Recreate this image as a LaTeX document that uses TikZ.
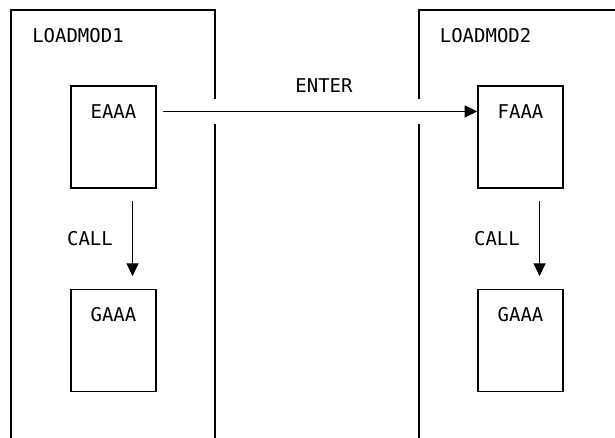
\documentclass[tikz,border=0pt]{standalone}
\usepackage{fontspec}
\setmonofont{DejaVu Sans Mono}
\usepackage{tikz}
\usetikzlibrary{arrows.meta}
\tikzstyle{line} = [draw, line width=0.8pt, -{Triangle[length=0.32cm,width=0.3cm]}]
\tikzstyle{frame} = [draw, line width=0.8pt]
\tikzstyle{box} = [draw, line width=0.8pt, minimum width=2.125cm, minimum height=2.55cm, inner sep=0pt]
\tikzstyle{txt} = [inner sep=0pt, font=\ttfamily\fontsize{13.5pt}{16pt}\selectfont]

\begin{document}
\begin{tikzpicture}
\useasboundingbox (0,0) rectangle (15.375,10.95);
% load modules
\draw[frame] (0.275,0) -- (0.275,10.7) -- (5.375,10.7) -- (5.375,8.475);
\draw[frame] (5.375,7.85) -- (5.375,0);
\draw[frame] (10.475,0) -- (10.475,7.85);
\draw[frame] (10.475,8.475) -- (10.475,10.7) -- (15.375,10.7);
\node[txt] (mod1) at (1.95,10.06) {LOADMOD1};
\node[txt] (mod2) at (12.14,10.06) {LOADMOD2};
%
\node[box] (eaaa) at (2.8375,7.525) {};
\node[box] (faaa) at (13.0125,7.525) {};
\node[box] (gaaa1) at (2.8375,2.4375) {};
\node[box] (gaaa2) at (13.0125,2.4375) {};
\node[txt] (eaaalbl) at ([yshift=-0.65cm]eaaa.north) {EAAA};
\node[txt] (faaalbl) at ([yshift=-0.65cm]faaa.north) {FAAA};
\node[txt] (gaaa1lbl) at ([yshift=-0.65cm]gaaa1.north) {GAAA};
\node[txt] (gaaa2lbl) at ([yshift=-0.65cm]gaaa2.north) {GAAA};
%
\node[txt] (enter) at (8.1,8.8) {ENTER};
\node[txt] (call1) at (2.25,4.975) {CALL};
\node[txt] (call2) at (12.425,4.975) {CALL};
%
\draw[line, shorten <=0.15cm] (eaaalbl -| eaaa.east) -- (faaalbl -| faaa.west);
\draw[line, shorten <=0.3cm, shorten >=0.32cm] ([xshift=-0.6cm]eaaa.south east) -- ([xshift=-0.6cm]gaaa1.north east);
\draw[line, shorten <=0.3cm, shorten >=0.32cm] ([xshift=-0.6cm]faaa.south east) -- ([xshift=-0.6cm]gaaa2.north east);
\end{tikzpicture}
\end{document}
